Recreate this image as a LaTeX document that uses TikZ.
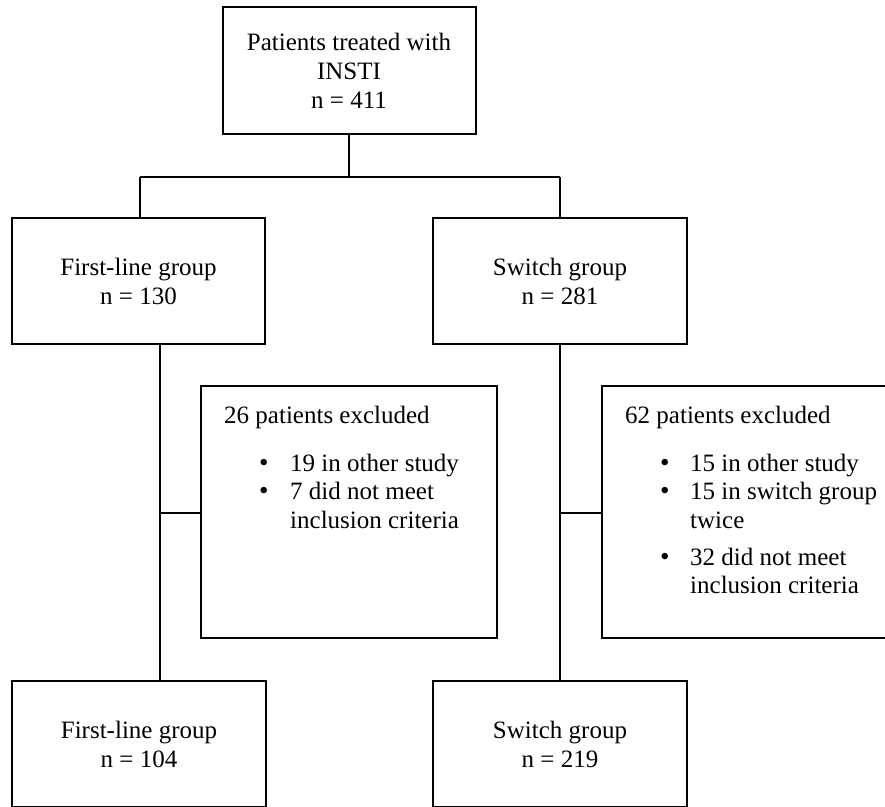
\documentclass[tikz,border=0pt]{standalone}
\usepackage{fontspec}
\setmainfont{Liberation Serif}
\begin{document}
\begin{tikzpicture}[x=1pt,y=-1pt,
  box/.style={draw=black,line width=2pt,fill=white,inner sep=0pt,align=center,
    font=\fontsize{25}{29}\selectfont},
  conn/.style={draw=black,line width=1.3pt},
  txt/.style={anchor=base west,inner sep=0pt,font=\fontsize{25}{29}\selectfont},
  bul/.style={anchor=base west,inner sep=0pt,font=\fontsize{27}{29}\selectfont}]
\useasboundingbox (0,0) rectangle (885,806);
\clip (0,0) rectangle (885,806);
\coordinate (j0) at (349,177);
\coordinate (jl) at (140,177);
\coordinate (jr) at (560,177);
\coordinate (el) at (160,513);
\coordinate (er) at (560,513);
% boxes
\node[box,minimum width=253pt,minimum height=127pt] (top) at (349,70.5) {Patients treated with\\INSTI\\n = 411};
\node[box,minimum width=253pt,minimum height=126pt] (fl) at (138.5,281) {First-line group\\n = 130};
\node[box,minimum width=254pt,minimum height=126pt] (sw) at (560,281) {Switch group\\n = 281};
\node[box,minimum width=296pt,minimum height=252pt] (exl) at (349,512) {};
\node[box,minimum width=296pt,minimum height=252pt] (exr) at (750,512) {};
\node[box,minimum width=254pt,minimum height=126pt] (fl2) at (139,744) {First-line group\\n = 104};
\node[box,minimum width=254pt,minimum height=126pt] (sw2) at (560,744) {Switch group\\n = 219};
% connectors
\draw[conn] (top.south) -- (j0);
\draw[conn] (jl) -- (jr);
\draw[conn] (jl) -- (jl |- fl.north);
\draw[conn] (jr) -- (sw.north);
\draw[conn] (el |- fl.south) -- (el |- fl2.north);
\draw[conn] (el) -- (exl.west |- el);
\draw[conn] (sw.south) -- (sw2.north);
\draw[conn] (er) -- (exr.west |- er);
% exclusion texts left
\node[txt] (l0) at (224,423) {26 patients excluded};
\node[bul] (lb1) at (259,471) {\textbullet};
\node[txt] (l1) at (290,471) {19 in other study};
\node[bul] (lb2) at (259,499) {\textbullet};
\node[txt] (l2) at (290,499) {7 did not meet};
\node[txt] (l3) at (290,528) {inclusion criteria};
% exclusion texts right
\node[txt] (r0) at (625,423) {62 patients excluded};
\node[bul] (rb1) at (660,471) {\textbullet};
\node[txt] (r1) at (690,471) {15 in other study};
\node[bul] (rb2) at (660,499) {\textbullet};
\node[txt] (r2) at (690,499) {15 in switch group};
\node[txt] (r3) at (690,528) {twice};
\node[bul] (rb3) at (660,565) {\textbullet};
\node[txt] (r4) at (690,565) {32 did not meet};
\node[txt] (r5) at (690,593) {inclusion criteria};
\end{tikzpicture}
\end{document}
